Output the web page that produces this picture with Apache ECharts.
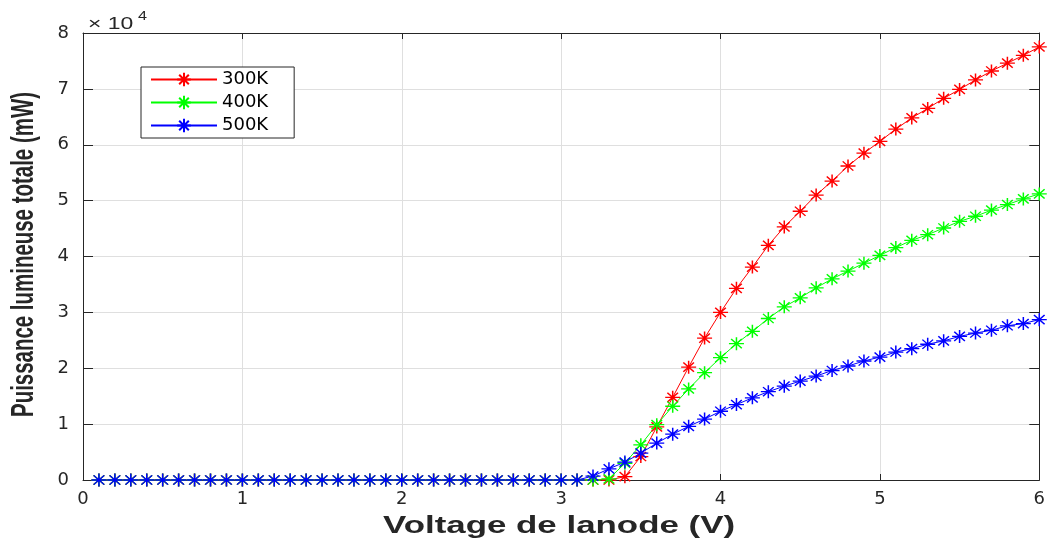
<!DOCTYPE html>
<html><head><meta charset="utf-8">
<script src="https://cdn.jsdelivr.net/npm/echarts@6/dist/echarts.min.js"></script>
<style>html,body{margin:0;padding:0;background:#fff}#c{width:1048px;height:538px}</style>
</head><body><div id="c"></div>
<script>
// Anode voltage (V)
const voltage = [0.1,0.2,0.3,0.4,0.5,0.6,0.7,0.8,0.9,1.0,
  1.1,1.2,1.3,1.4,1.5,1.6,1.7,1.8,1.9,2.0,
  2.1,2.2,2.3,2.4,2.5,2.6,2.7,2.8,2.9,3.0,
  3.1,3.2,3.3,3.4,3.5,3.6,3.7,3.8,3.9,4.0,
  4.1,4.2,4.3,4.4,4.5,4.6,4.7,4.8,4.9,5.0,
  5.1,5.2,5.3,5.4,5.5,5.6,5.7,5.8,5.9,6.0];
// Total luminous power (mW)
const p300K = [0,0,0,0,0,0,0,0,0,0,
  0,0,0,0,0,0,0,0,0,0,
  0,0,0,0,0,0,0,0,0,0,
  0,0,0,600,4200,9500,14800,20200,25400,30000,
  34300,38100,42000,45300,48100,51000,53500,56200,58500,60600,
  62800,64800,66500,68300,69900,71600,73200,74600,76000,77500];
const p400K = [0,0,0,0,0,0,0,0,0,0,
  0,0,0,0,0,0,0,0,0,0,
  0,0,0,0,0,0,0,0,0,0,
  0,0,200,3000,6300,9900,13200,16300,19200,21900,
  24400,26600,28900,31000,32600,34400,36000,37400,38800,40200,
  41600,42900,43900,45100,46300,47200,48300,49300,50300,51200];
const p500K = [0,0,0,0,0,0,0,0,0,0,
  0,0,0,0,0,0,0,0,0,0,
  0,0,0,0,0,0,0,0,0,0,
  0,700,2000,3200,4800,6600,8200,9600,10900,12300,
  13500,14700,15800,16800,17700,18600,19600,20400,21300,22000,
  22900,23500,24300,24900,25700,26300,26800,27600,28000,28700];
const seriesNames = ['300K','400K','500K'];
const seriesColors = ['#ff0000','#00ff00','#0000ff'];
const xTicks = ['0','1','2','3','4','5','6'];
const yTicks = ['0','1','2','3','4','5','6','7','8'];
const xTitle = 'Voltage de lanode (V)';
const yTitle = 'Puissance lumineuse totale (mW)';

function measure(font, text) {
  const cv = document.createElement('canvas').getContext('2d');
  cv.font = font; return cv.measureText(text).width;
}
const xFont = 'bold 24px "Liberation Sans"';
const yFont = 'bold 21px "Liberation Sans"';
const xScale = 352 / measure(xFont, xTitle);
const yScale = 325 / measure(yFont, yTitle);

const star = 'path://M0,-10L0,10M-10,0L10,0M-7.1,-7.1L7.1,7.1M-7.1,7.1L7.1,-7.1';
const axisColor = '#262626';
const tickFont = {fontFamily: '"DejaVu Sans"', fontSize: 18, color: axisColor};

function mk(name, vals, color) {
  return {
    name: name, type: 'line', xAxisIndex: 0, yAxisIndex: 0,
    data: voltage.map((v, i) => [v, vals[i]]),
    symbol: star, symbolSize: [15, 13], showSymbol: true, showAllSymbol: true,
    lineStyle: {color: color, width: 1},
    itemStyle: {color: color, borderColor: color, borderWidth: 1.4},
    emphasis: {disabled: true}
  };
}

const chart = echarts.init(document.getElementById('c'), null, {renderer: 'canvas'});
chart.setOption({
  animation: false,
  backgroundColor: '#fff',
  grid: {left: 83, right: 8, top: 33, bottom: 58, containLabel: false},
  xAxis: [{
    type: 'value', min: 0, max: 6, interval: 1, position: 'bottom',
    axisLine: {show: true, onZero: false, lineStyle: {color: axisColor, width: 1}},
    axisTick: {show: true, inside: true, length: 6, lineStyle: {color: axisColor}},
    axisLabel: Object.assign({margin: 10, formatter: (v) => xTicks[Math.round(v)]}, tickFont),
    splitLine: {show: true, lineStyle: {color: '#dfdfdf', width: 1}}
  }, {
    type: 'value', min: 0, max: 6, interval: 1, position: 'top',
    axisLine: {show: true, onZero: false, lineStyle: {color: axisColor, width: 1}},
    axisTick: {show: true, inside: true, length: 6, lineStyle: {color: axisColor}},
    axisLabel: {show: false}, splitLine: {show: false}
  }],
  yAxis: [{
    type: 'value', min: 0, max: 80000, interval: 10000, position: 'left',
    axisLine: {show: true, onZero: false, lineStyle: {color: axisColor, width: 1}},
    axisTick: {show: true, inside: true, length: 10, lineStyle: {color: axisColor}},
    axisLabel: Object.assign({margin: 14, formatter: (v) => yTicks[Math.round(v / 10000)]}, tickFont),
    splitLine: {show: true, lineStyle: {color: '#dfdfdf', width: 1}}
  }, {
    type: 'value', min: 0, max: 80000, interval: 10000, position: 'right',
    axisLine: {show: true, onZero: false, lineStyle: {color: axisColor, width: 1}},
    axisTick: {show: true, inside: true, length: 10, lineStyle: {color: axisColor}},
    axisLabel: {show: false}, splitLine: {show: false}
  }],
  legend: {
    data: seriesNames, orient: 'vertical', left: 141, top: 67,
    itemWidth: 66, itemHeight: 17, itemGap: 5,
    padding: [3.5, 26, 3.5, 9],
    backgroundColor: '#fff', borderColor: axisColor, borderWidth: 1,
    textStyle: {fontFamily: '"DejaVu Sans"', fontSize: 18, color: '#000'},
    selectedMode: false
  },
  graphic: [
    {type: 'text', x: 559, y: 526, scaleX: xScale, silent: true,
     style: {text: xTitle, font: xFont, fill: axisColor, align: 'center', verticalAlign: 'middle'}},
    {type: 'text', x: 25, y: 254.5, rotation: Math.PI / 2, scaleX: yScale, scaleY: 1.45, silent: true,
     style: {text: yTitle, font: yFont, fill: axisColor, align: 'center', verticalAlign: 'middle'}},
    {type: 'text', x: 88, y: 24, scaleX: 1.35, silent: true,
     style: {text: '× 10', font: '17px "Liberation Sans"', fill: axisColor, align: 'left', verticalAlign: 'middle'}},
    {type: 'text', x: 138, y: 17, scaleX: 1.35, silent: true,
     style: {text: '4', font: '12px "Liberation Sans"', fill: axisColor, align: 'left', verticalAlign: 'middle'}}
  ],
  series: [
    mk(seriesNames[0], p300K, seriesColors[0]),
    mk(seriesNames[1], p400K, seriesColors[1]),
    mk(seriesNames[2], p500K, seriesColors[2])
  ]
});
</script></body></html>
